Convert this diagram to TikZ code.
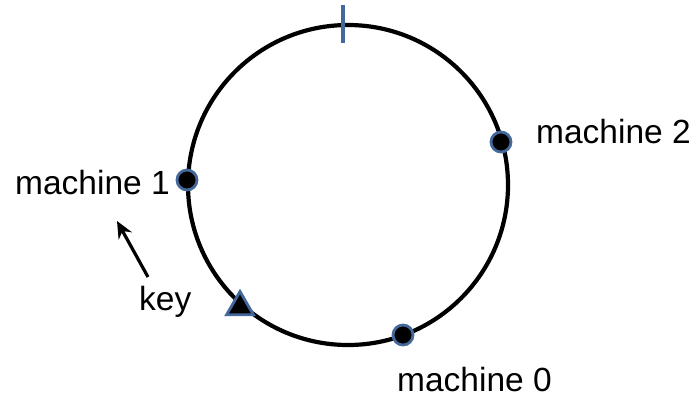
\documentclass[tikz,border=0pt]{standalone}
\usepackage{fontspec}
\setmainfont{Liberation Sans}
\usepackage{xcolor}
\usetikzlibrary{positioning,shapes.geometric,arrows.meta}

\definecolor{ringblue}{RGB}{68,104,156}

\begin{document}
\begin{tikzpicture}[x=1pt,y=-1pt,
    machine/.style={circle,fill=black,draw=ringblue,line width=2.8pt,minimum size=20pt,inner sep=0pt},
    keymark/.style={regular polygon,regular polygon sides=3,fill=black,draw=ringblue,line width=2.8pt,minimum size=31pt,inner sep=0pt},
    lbl/.style={font=\fontsize{33.5}{39}\selectfont,inner sep=0pt}]
  \useasboundingbox (0,0) rectangle (693,397);
  \coordinate (ctr) at (348,185);
  \draw[line width=4.2pt] (ctr) circle[radius=160pt];
  % zero point of the ring
  \coordinate (z1) at (343,5);
  \coordinate (z2) at (343,43);
  \draw[ringblue,line width=4pt] (z1) -- (z2);
  % machines and the key
  \node[machine] (m0) at (403,335) {};
  \node[machine] (m1) at (187,180) {};
  \node[machine] (m2) at (501,142) {};
  \node[keymark] (k) at (240,307) {};
  \node[lbl,anchor=base west] (l0) at (397,391) {machine 0};
  \node[lbl,anchor=base west] (l1) at (15,194) {machine 1};
  \node[lbl,anchor=base west] (l2) at (536,143) {machine 2};
  \node[lbl,anchor=base west] (lk) at (139,310) {key};
  \coordinate (a1) at (148,277);
  \coordinate (a2) at (117,221);
  \draw[-{Stealth[length=17pt,width=15pt]},line width=3.2pt] (a1) -- (a2);
\end{tikzpicture}
\end{document}
